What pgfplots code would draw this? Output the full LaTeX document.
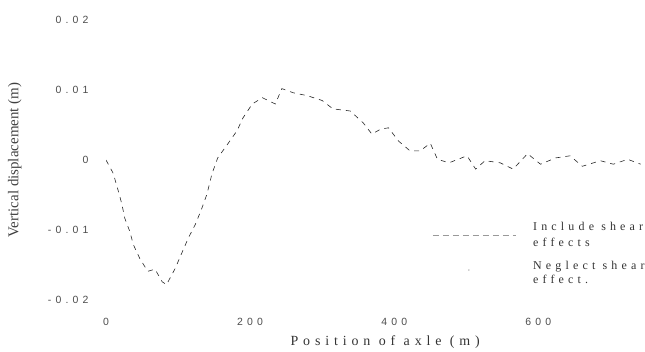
\documentclass[border=0pt]{standalone}
\usepackage{fontspec}
\setmainfont{Liberation Serif}
\newfontfamily\tickfont{Liberation Sans}[LetterSpace=40]
\newfontfamily\labfont{Liberation Serif}[LetterSpace=35]
\newfontfamily\legfont{Liberation Serif}[LetterSpace=35]
\usepackage{pgfplots}
\pgfplotsset{compat=1.18}

% vertical displacement along the beam (m) versus axle position (m)
\pgfplotstableread{
x     y
0      0.0000
10    -0.0019
17    -0.0044
22    -0.0063
26    -0.0083
33    -0.0102
38    -0.0121
47    -0.0141
58    -0.0159
68    -0.0156
78    -0.0174
84    -0.0178
96    -0.0155
106   -0.0131
114   -0.0112
124   -0.0092
133   -0.0069
140   -0.0049
147   -0.0020
155    0.0003
169    0.0023
182    0.0042
190    0.0060
203    0.0080
217    0.0089
235    0.0080
244    0.0102
260    0.0096
279    0.0092
300    0.0085
315    0.0073
339    0.0070
357    0.0053
369    0.0037
381    0.0044
392    0.0046
406    0.0027
422    0.0013
436    0.0013
450    0.0024
460    0.0001
476   -0.0004
501    0.0006
513   -0.0013
526   -0.0001
547   -0.0004
565   -0.0013
585    0.0009
603   -0.0006
624    0.0003
644    0.0006
661   -0.0009
686   -0.0001
704   -0.0006
724    0.0001
742   -0.0006
}\shear

\begin{document}
\begin{tikzpicture}
\useasboundingbox (0,0) rectangle (645bp,352bp);
\begin{axis}[
  at={(106bp,52bp)}, anchor=south west,
  scale only axis, width=539bp, height=280bp,
  xmin=0, xmax=748, ymin=-0.02, ymax=0.02,
  scaled y ticks=false, scaled x ticks=false,
  axis line style={draw=none},
  tick style={draw=none}, major tick length=0pt,
  xtick={0,200,400,600}, xticklabels={0,200,400,600},
  ytick={-0.02,-0.01,0,0.01,0.02},
  yticklabels={-0.02,-0.01,0,0.01,0.02},
  xticklabel style={font=\tickfont\fontsize{10.5}{12}\selectfont, text=black!70, anchor=center, yshift=-22bp},
  yticklabel style={font=\tickfont\fontsize{10.5}{12}\selectfont, text=black!70, anchor=east, xshift=-14bp},
  every axis x label/.style={at={(axis description cs:0.518,-0.15)}, anchor=center,
    font=\labfont\fontsize{14}{16}\selectfont, text=black!80},
  every axis y label/.style={at={(axis description cs:-0.169,0.5)}, rotate=90, anchor=center,
    font=\fontsize{15}{17}\selectfont, text=black!75},
  xlabel={Position of axle (m)},
  ylabel={Vertical displacement (m)},
  legend style={at={(axis cs:453,-0.0086)}, anchor=north west, draw=none, fill=none,
    inner sep=0pt, row sep=20bp,
    font=\legfont\fontsize{12}{14}\selectfont, text=black!80,
    nodes={inner sep=0pt}},
  legend cell align=left,
  /tikz/every odd column/.append style={column sep=17bp},
]
\addplot[black!85, line width=0.6pt, dash pattern=on 5bp off 5bp, forget plot] table {\shear};
\addlegendimage{legend image code/.code={\draw[black!40, line width=0.5pt, dash pattern=on 6bp off 4bp] (0bp,-5bp) -- (83bp,-5bp);}}
\addlegendimage{legend image code/.code={\fill[black!30] (36bp,-1bp) circle (0.5bp);}}
\legend{{\begin{tabular}{@{}l@{}}Include shear\tabularnewline[2bp]effects\end{tabular}},
        {\begin{tabular}{@{}l@{}}Neglect shear\tabularnewline[0bp]effect.\end{tabular}}}
\end{axis}
\end{tikzpicture}
\end{document}
